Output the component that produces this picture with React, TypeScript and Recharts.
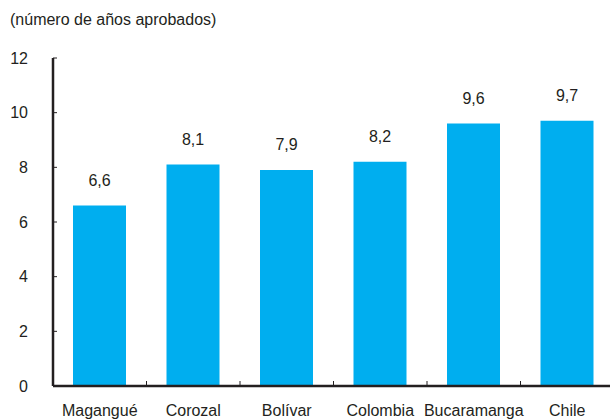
import React from "react";
import { BarChart, Bar, XAxis, YAxis, LabelList } from "recharts";

const categories = ["Magangué", "Corozal", "Bolívar", "Colombia", "Bucaramanga", "Chile"];
const values = [6.6, 8.1, 7.9, 8.2, 9.6, 9.7];
const yTicks = [0, 2, 4, 6, 8, 10, 12];

const data = categories.map((name, i) => ({ name, value: values[i] }));

const FONT = "'Liberation Sans', Arial, sans-serif";
const INK = "#231f20";
const BAND = (614 - 53) / categories.length;

const YTick = (props: any) => {
    const { x, y, payload } = props;
    return (
        <g>
            <line x1={x} x2={x + 4} y1={y} y2={y} stroke={INK} strokeWidth={1} />
            <text x={x - 25} y={y} dy={5.5} textAnchor="end" fontSize={16} fill={INK} fontFamily={FONT}>
                {payload.value}
            </text>
        </g>
    );
};

const XTick = (props: any) => {
    const { x, y, payload, index } = props;
    const edge = x + BAND / 2;
    return (
        <g>
            {index < categories.length - 1 && (
                <line x1={edge} x2={edge} y1={y - 1} y2={y - 5} stroke={INK} strokeWidth={1} />
            )}
            <text x={x} y={y + 30} textAnchor="middle" fontSize={16} fill={INK} fontFamily={FONT}>
                {payload.value}
            </text>
        </g>
    );
};

export default function App() {
    return (
        <div style={{ position: "absolute", left: 0, top: 0, width: 610, height: 419, overflow: "hidden", background: "#fff" }}>
            <div style={{ position: "absolute", left: 10, top: 11, fontSize: 16, fontFamily: FONT, color: INK }}>
                (número de años aprobados)
            </div>
            <BarChart
                width={614}
                height={419}
                data={data}
                margin={{ top: 58, right: 0, bottom: 3, left: 0 }}
                barCategoryGap={20}
            >
                <YAxis
                    domain={[0, 12]}
                    ticks={yTicks}
                    width={53}
                    axisLine={{ stroke: INK, strokeWidth: 2.5 }}
                    tickLine={false}
                    tickSize={0}
                    tickMargin={0}
                    tick={<YTick />}
                    interval={0}
                />
                <XAxis
                    dataKey="name"
                    height={30}
                    axisLine={{ stroke: INK, strokeWidth: 2.5 }}
                    tickLine={false}
                    tickSize={0}
                    tickMargin={0}
                    tick={<XTick />}
                    interval={0}
                />
                <Bar dataKey="value" fill="#00aeef" barSize={53} isAnimationActive={false}>
                    <LabelList
                        dataKey="value"
                        position="top"
                        offset={20}
                        formatter={(v: any) => String(v).replace(".", ",")}
                        style={{ fontSize: 16, fill: INK, fontFamily: FONT }}
                    />
                </Bar>
            </BarChart>
        </div>
    );
}
